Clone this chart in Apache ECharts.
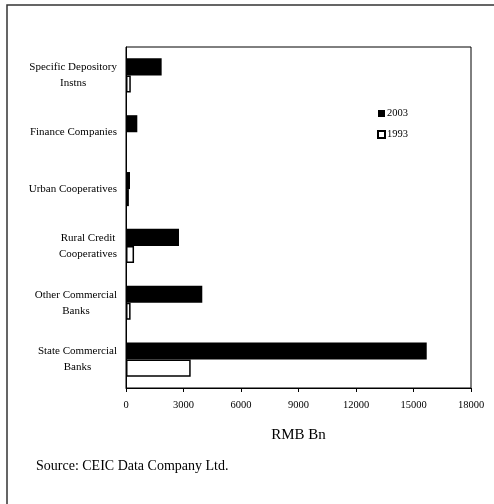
<!DOCTYPE html>
<html>
<head>
<meta charset="utf-8">
<script src="https://cdn.jsdelivr.net/npm/echarts@6/dist/echarts.min.js"></script>
<style>
  html, body { margin: 0; padding: 0; background: #fff; }
  #chart { width: 494px; height: 504px; }
</style>
</head>
<body>
<div id="chart"></div>
<script>
// Institution categories, top to bottom
const categories = [
  'Specific Depository\nInstns',
  'Finance Companies',
  'Urban Cooperatives',
  'Rural Credit\nCooperatives',
  'Other Commercial\nBanks',
  'State Commercial\nBanks'
];
// Assets, RMB Bn
const values2003 = [1860, 590, 210, 2765, 3980, 15690];
const values1993 = [250, null, 150, 420, 240, 3375];
const xTicks = [0, 3000, 6000, 9000, 12000, 15000, 18000];

const serif = '"Liberation Serif", "Times New Roman", serif';

const chart = echarts.init(document.getElementById('chart'), null, { renderer: 'canvas' });

chart.setOption({
  animation: false,
  backgroundColor: '#fff',
  textStyle: { fontFamily: serif, color: '#000' },
  grid: {
    left: 126, top: 47, right: 23, bottom: 116,
    show: true, borderColor: '#000', borderWidth: 1, backgroundColor: 'transparent'
  },
  legend: {
    orient: 'vertical',
    left: 372, top: 103,
    itemWidth: 7, itemHeight: 7, itemGap: 10,
    icon: 'rect',
    data: ['2003', '1993'],
    textStyle: { fontFamily: serif, fontSize: 10.5, color: '#000', padding: [0, 0, 0, -3] }
  },
  xAxis: {
    type: 'value',
    min: xTicks[0], max: xTicks[xTicks.length - 1], interval: 3000,
    name: 'RMB Bn', nameLocation: 'middle', nameGap: 40,
    nameTextStyle: { fontFamily: serif, fontSize: 15, color: '#000' },
    axisLine: { show: true, lineStyle: { color: '#000', width: 1 } },
    axisTick: { show: true, length: 4, lineStyle: { color: '#000' } },
    axisLabel: {
      fontFamily: serif, fontSize: 10.5, color: '#000', margin: 12,
      formatter: v => String(v)
    },
    splitLine: { show: false }
  },
  yAxis: {
    type: 'category',
    inverse: true,
    data: categories,
    axisLine: { show: true, lineStyle: { color: '#000', width: 1 } },
    axisTick: { show: false },
    axisLabel: {
      margin: 9,
      formatter: v => v.split('\n').map(s => '{c|' + s + '}').join('\n'),
      rich: {
        c: { fontFamily: serif, fontSize: 11, color: '#000', align: 'center', lineHeight: 16 }
      }
    }
  },
  series: [
    {
      name: '2003', type: 'bar', data: values2003,
      barCategoryGap: '40%', barGap: '0%',
      itemStyle: { color: '#000', borderColor: '#000', borderWidth: 0 }
    },
    {
      name: '1993', type: 'bar', data: values1993,
      itemStyle: { color: '#fff', borderColor: '#000', borderWidth: 1.5 }
    }
  ],
  graphic: [
    {
      type: 'rect', silent: true,
      shape: { x: 7, y: 5, width: 600, height: 600 },
      style: { fill: 'none', stroke: '#333', lineWidth: 1.5 }
    },
    {
      type: 'text', left: 36, top: 459,
      style: { text: 'Source: CEIC Data Company Ltd.', font: '14px ' + serif, fill: '#000' }
    }
  ]
});
</script>
</body>
</html>
